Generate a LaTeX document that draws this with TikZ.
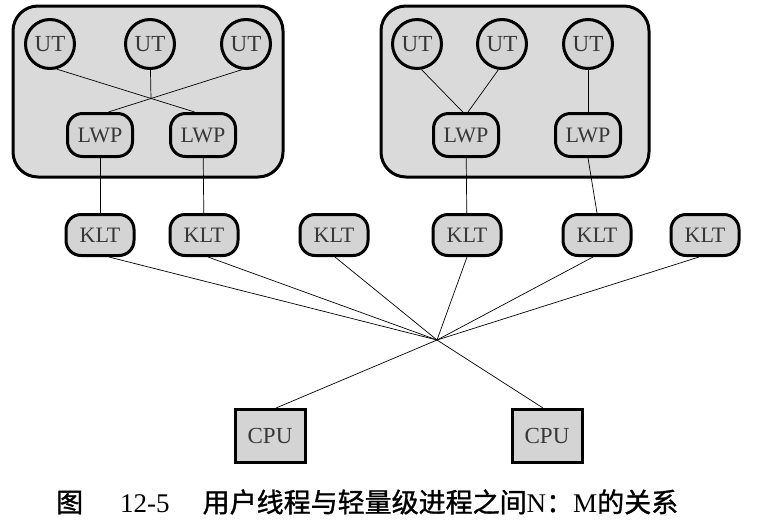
\documentclass[tikz,border=0pt]{standalone}
\usepackage{fontspec}
\setmainfont{Liberation Serif}
\newfontfamily\cjk[FakeBold=1.2]{Noto Sans CJK SC}
\definecolor{nodegray}{RGB}{212,212,212}
\definecolor{boxgray}{RGB}{218,218,218}
\definecolor{labelgray}{RGB}{55,55,55}

\begin{document}
\begin{tikzpicture}[x=1pt,y=-1pt]
      \tikzstyle{point} = [coordinate]
      \tikzstyle{proc} = [rectangle, draw, line width=3pt, fill=boxgray, rounded corners=25pt]
      \tikzstyle{ut} = [circle, draw, line width=3pt, fill=nodegray, minimum size=49pt, inner sep=0pt,
                        text=labelgray, font=\fontsize{23}{23}\selectfont]
      \tikzstyle{lwp} = [rectangle, draw, line width=3pt, fill=nodegray, rounded corners=15pt,
                         minimum width=65pt, minimum height=43pt, inner sep=0pt,
                         text=labelgray, font=\fontsize{22}{22}\selectfont]
      \tikzstyle{cpu} = [rectangle, draw, line width=3pt, fill=nodegray, minimum width=70pt,
                         minimum height=53pt, inner sep=0pt, text=labelgray, font=\fontsize{23}{23}\selectfont]
      \tikzstyle{link} = [line width=0.7pt]
      \useasboundingbox (0,0) rectangle (760,523);
      % processes
      \node (proc1) [proc, minimum width=270pt, minimum height=171pt] at (148,91.5) {};
      \node (proc2) [proc, minimum width=268pt, minimum height=171pt] at (515,91.5) {};
      % user threads
      \node (ut1) [ut] at (50,44) {UT};
      \node (ut2) [ut] at (150,44) {UT};
      \node (ut3) [ut] at (246,44) {UT};
      \node (ut4) [ut] at (417,44) {UT};
      \node (ut5) [ut] at (502,44) {UT};
      \node (ut6) [ut] at (588,44) {UT};
      % light weight processes
      \node (lwp1) [lwp] at (100,135) {LWP};
      \node (lwp2) [lwp] at (203,135) {LWP};
      \node (lwp3) [lwp] at (466,135) {LWP};
      \node (lwp4) [lwp] at (588,135) {LWP};
      % kernel threads
      \node (klt1) [lwp, minimum width=68pt, minimum height=41pt] at (100,235) {KLT};
      \node (klt2) [lwp, minimum width=68pt, minimum height=41pt] at (204,235) {KLT};
      \node (klt3) [lwp, minimum width=68pt, minimum height=41pt] at (334,235) {KLT};
      \node (klt4) [lwp, minimum width=68pt, minimum height=41pt] at (467,235) {KLT};
      \node (klt5) [lwp, minimum width=68pt, minimum height=41pt] at (597,235) {KLT};
      \node (klt6) [lwp, minimum width=68pt, minimum height=41pt] at (705,235) {KLT};
      % processors
      \node (cpu1) [cpu] at (270,436) {CPU};
      \node (cpu2) [cpu] at (547,436) {CPU};
      \node (mid1) [point] at (151,99) {};
      \node (hub) [point] at (437,340) {};
      \draw [link] (ut1.-75)--(lwp2.110);
      \draw [link] (ut3.-99)--(lwp1.70);
      \draw [link] (ut2)--(mid1);
      \draw [link] (ut4.-80)--(lwp3.98);
      \draw [link] (ut5.-98)--(lwp3.85);
      \draw [link] (ut6)--(lwp4);
      \draw [link] (lwp1)--(klt1);
      \draw [link] (lwp2)--(klt2);
      \draw [link] (lwp3)--(klt4);
      \draw [link] (lwp4.south)--(klt5.north);
      \draw [link] ([xshift=9pt]klt1.south)--(hub);
      \draw [link] ([xshift=4pt]klt2.south)--(hub);
      \draw [link] ([xshift=1pt]klt3.south)--(hub);
      \draw [link] (klt4.south)--(hub);
      \draw [link] ([xshift=-4pt]klt5.south)--(hub);
      \draw [link] ([xshift=-6pt]klt6.south)--(hub);
      \draw [link] (hub)--([xshift=6pt]cpu1.north);
      \draw [link] (hub)--([xshift=-4pt]cpu2.north);
      % caption
      \node (title) [anchor=west, inner sep=0pt, font=\fontsize{27}{27}\selectfont] at (56,502)
        {{\cjk 图}\hspace{37pt}12-5\hspace{33pt}{\cjk 用户线程与轻量级进程之间}N{\cjk ：}M{\cjk 的关系}};
\end{tikzpicture}
\end{document}
